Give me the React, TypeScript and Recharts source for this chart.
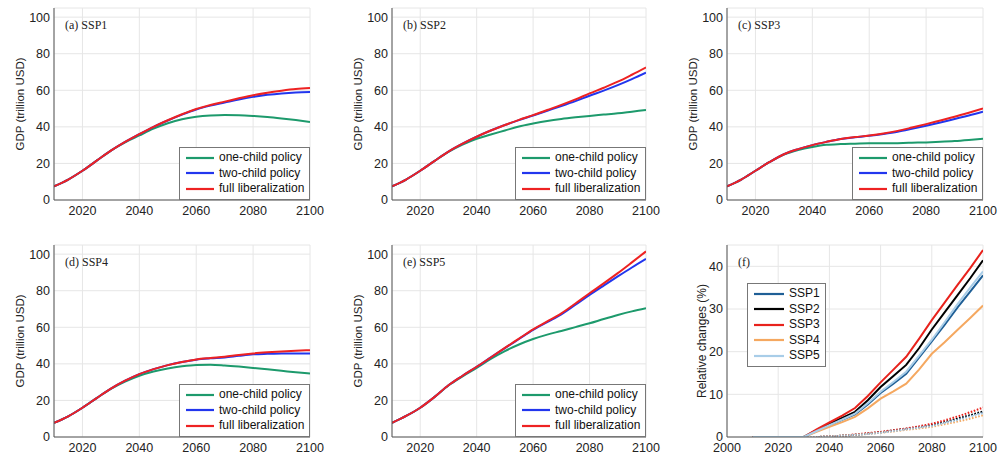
import React from 'react';
import { LineChart, Line, XAxis, YAxis, CartesianGrid, Legend } from 'recharts';

// years shared by every panel (5-year steps)
const YEARS = [2010, 2015, 2020, 2025, 2030, 2035, 2040, 2045, 2050, 2055, 2060, 2065, 2070, 2075, 2080, 2085, 2090, 2095, 2100];

const POLICY_NAMES = ['one-child policy', 'two-child policy', 'full liberalization'];
const POLICY_COLORS = ['#1d9a6c', '#2236ee', '#ee2222'];

// GDP (trillion USD)
const SSP1_ONE = [7.5, 11.2, 16, 21.5, 27, 31.5, 35.3, 39, 42, 44.2, 45.5, 46.2, 46.5, 46.4, 46, 45.4, 44.6, 43.7, 42.7];
const SSP1_TWO = [7.5, 11.2, 16, 21.5, 27, 31.8, 36, 40, 43.5, 46.7, 49.5, 51.6, 53.3, 55, 56.4, 57.5, 58.3, 58.8, 59];
const SSP1_FULL = [7.5, 11.2, 16, 21.5, 27, 31.8, 36, 40, 43.6, 46.9, 49.8, 52, 53.8, 55.6, 57.3, 58.7, 59.8, 60.7, 61.2];

const SSP2_ONE = [7.5, 11.2, 16, 21.3, 26.3, 30.3, 33.5, 35.8, 38, 40.2, 41.8, 43.2, 44.3, 45.2, 46, 46.7, 47.4, 48.3, 49.2];
const SSP2_TWO = [7.5, 11.2, 16, 21.3, 26.5, 30.8, 34.6, 38, 41, 43.7, 46.2, 48.8, 51.4, 54.1, 57, 59.8, 62.8, 66.1, 69.6];
const SSP2_FULL = [7.5, 11.2, 16, 21.3, 26.5, 30.8, 34.6, 38, 41, 43.8, 46.4, 49.2, 52, 55, 58.3, 61.4, 64.7, 68.5, 72.5];

const SSP3_ONE = [7.5, 11.2, 16, 20.8, 24.8, 27.3, 29, 30.2, 30.6, 30.8, 31, 31, 31.1, 31.3, 31.5, 31.8, 32.2, 32.8, 33.5];
const SSP3_TWO = [7.5, 11.2, 16, 20.8, 25, 27.8, 30, 31.8, 33.4, 34.3, 35.1, 36.1, 37.3, 38.9, 40.6, 42.4, 44.3, 46.2, 48.3];
const SSP3_FULL = [7.5, 11.2, 16, 20.8, 25, 27.8, 30, 31.8, 33.4, 34.4, 35.3, 36.4, 37.8, 39.6, 41.5, 43.5, 45.5, 47.7, 50];

const SSP4_ONE = [7.7, 11.3, 16, 21.3, 26.3, 30.3, 33.5, 35.8, 37.5, 38.7, 39.4, 39.5, 39.1, 38.5, 37.8, 37, 36.2, 35.4, 34.7];
const SSP4_TWO = [7.7, 11.3, 16, 21.3, 26.5, 30.8, 34.4, 37.1, 39.3, 41, 42.3, 43, 43.5, 44.4, 45.2, 45.5, 45.7, 45.7, 45.7];
const SSP4_FULL = [7.7, 11.3, 16, 21.3, 26.5, 30.8, 34.4, 37.1, 39.3, 41, 42.4, 43.2, 43.9, 44.9, 45.7, 46.3, 46.8, 47.2, 47.5];

const SSP5_ONE = [7.7, 11.5, 16, 21.8, 28.2, 33.2, 37.8, 42.7, 47, 50.6, 53.6, 56, 58, 60.1, 62.2, 64.5, 66.7, 68.7, 70.4];
const SSP5_TWO = [7.7, 11.5, 16, 21.8, 28.3, 33.5, 38.4, 43.5, 48.6, 53.6, 58.6, 62.8, 67, 72.3, 77.7, 82.8, 87.8, 92.7, 97.4];
const SSP5_FULL = [7.7, 11.5, 16, 21.8, 28.3, 33.5, 38.4, 43.5, 48.7, 53.8, 58.9, 63.2, 67.6, 73, 78.6, 84, 89.6, 95.5, 101.5];

// relative changes (%), solid and dotted
const SSP_NAMES = ['SSP1', 'SSP2', 'SSP3', 'SSP4', 'SSP5'];
const SSP_COLORS = ['#1f5f96', '#000000', '#e8221c', '#f5a860', '#a8cde8'];

const REL_SOLID = [
  [0, 0, 0, 0, 0, 1.4, 2.7, 4.0, 5.3, 7.6, 10.3, 12.5, 14.8, 18.6, 22.4, 26.3, 30.3, 34.1, 37.9],
  [0, 0, 0, 0, 0, 1.6, 3.1, 4.5, 5.9, 8.6, 11.7, 14.3, 16.9, 20.8, 25.2, 29.2, 33.2, 37.2, 41.4],
  [0, 0, 0, 0, 0, 1.8, 3.4, 5.0, 6.8, 9.6, 12.8, 15.8, 18.8, 23.0, 27.4, 31.5, 35.6, 39.6, 43.8],
  [0, 0, 0, 0, 0, 1.2, 2.4, 3.5, 4.7, 6.7, 9.0, 10.7, 12.5, 15.8, 19.5, 22.2, 25.1, 27.9, 30.8],
  [0, 0, 0, 0, 0, 1.4, 2.8, 4.1, 5.5, 7.9, 10.6, 12.9, 15.3, 19.0, 22.8, 26.9, 31.1, 35.0, 38.8],
];
const REL_DOTTED = [
  [0, 0, 0, 0, 0, 0, 0.1, 0.3, 0.5, 0.8, 1.1, 1.5, 1.9, 2.3, 2.7, 3.4, 4.2, 5.0, 5.8],
  [0, 0, 0, 0, 0, 0, 0.1, 0.3, 0.5, 0.8, 1.1, 1.5, 1.9, 2.3, 2.8, 3.5, 4.3, 5.1, 6.0],
  [0, 0, 0, 0, 0, 0, 0.1, 0.3, 0.6, 0.9, 1.2, 1.6, 2.0, 2.5, 3.1, 3.9, 4.8, 5.8, 6.9],
  [0, 0, 0, 0, 0, 0, 0.1, 0.3, 0.5, 0.7, 1.0, 1.3, 1.7, 2.0, 2.4, 3.0, 3.6, 4.3, 5.1],
  [0, 0, 0, 0, 0, 0, 0.1, 0.3, 0.5, 0.7, 1.0, 1.4, 1.8, 2.2, 2.6, 3.3, 4.0, 4.8, 5.6],
];

const GDP_X_TICKS = [2020, 2040, 2060, 2080, 2100];
const GDP_Y_TICKS = [0, 20, 40, 60, 80, 100];
const REL_X_TICKS = [2000, 2020, 2040, 2060, 2080, 2100];
const REL_Y_TICKS = [0, 10, 20, 30, 40];

const SANS = '"Liberation Sans", Arial, sans-serif';
const SERIF = '"Liberation Serif", "Times New Roman", serif';
const FRAME = '#555';
const GRID = '#e6e6e6';

const ML = 14;
const AXIS_W = 40;
const MR = 20;
const MT = 8;
const PLOT_H = 192;
const XAXIS_H = 20;
const MB = 5;

function SideLabel(props: any) {
  const { viewBox, value, gap, size } = props;
  const x = viewBox.x + viewBox.width - gap;
  const y = viewBox.y + viewBox.height / 2;
  return (
    <text
      x={x}
      y={y}
      transform={`rotate(-90 ${x} ${y})`}
      textAnchor="middle"
      dominantBaseline="central"
      fontFamily={SANS}
      fontSize={size}
      fill="#222"
    >
      {value}
    </text>
  );
}

type Item = { name: string; color: string };

function LegendBox({ items, width, lineW }: { items: Item[]; width: number; lineW: number }) {
  return (
    <div
      style={{
        boxSizing: 'border-box',
        width,
        border: '1px solid #777',
        background: '#fff',
        padding: '2px 0 2px 6px',
        fontFamily: SANS,
        fontSize: 12,
        color: '#111',
        lineHeight: '15.5px',
      }}
    >
      {items.map((it) => (
        <div key={it.name} style={{ display: 'flex', alignItems: 'center', height: 15.5 }}>
          <svg width={lineW} height={4} style={{ marginRight: 5, flex: 'none' }}>
            <line x1={0} y1={2} x2={lineW} y2={2} stroke={it.color} strokeWidth={2.2} />
          </svg>
          <span style={{ whiteSpace: 'nowrap' }}>{it.name}</span>
        </div>
      ))}
    </div>
  );
}

type SeriesDef = { key: string; color: string; dashed?: boolean };

type PanelProps = {
  plotLeft: number;
  plotTop: number;
  plotW: number;
  data: any[];
  series: SeriesDef[];
  xDomain: [number, number];
  xTicks: number[];
  yDomain: [number, number];
  yTicks: number[];
  yLabel: string;
  yLabelGap: number;
  yLabelSize: number;
  tag: string;
  tagDx: number;
  legendItems: Item[];
  legendLeft: number;
  legendTop: number;
  legendW: number;
  legendLineW: number;
  smooth: boolean;
};

function Panel(p: PanelProps) {
  const width = ML + AXIS_W + p.plotW + MR;
  const height = MT + PLOT_H + XAXIS_H + MB;
  const tickStyle = { fontFamily: SANS, fontSize: 12.5, fill: '#222' };
  return (
    <div style={{ position: 'absolute', left: p.plotLeft - ML - AXIS_W, top: p.plotTop - MT, width, height }}>
      <LineChart width={width} height={height} data={p.data} margin={{ top: MT, right: MR, bottom: MB, left: ML }}>
        <CartesianGrid stroke={GRID} strokeWidth={1} />
        <XAxis
          dataKey="year"
          type="number"
          domain={p.xDomain}
          ticks={p.xTicks}
          allowDataOverflow
          height={XAXIS_H}
          tickLine={false}
          tickSize={3}
          tickMargin={3}
          tick={tickStyle}
          axisLine={{ stroke: FRAME }}
          interval={0}
        />
        <XAxis
          xAxisId="top"
          dataKey="year"
          type="number"
          orientation="top"
          domain={p.xDomain}
          allowDataOverflow
          height={0}
          tick={false}
          tickLine={false}
          axisLine={{ stroke: FRAME }}
        />
        <YAxis
          type="number"
          domain={p.yDomain}
          ticks={p.yTicks}
          allowDataOverflow
          width={AXIS_W}
          tickLine={false}
          tickSize={2}
          tickMargin={2}
          tick={tickStyle}
          axisLine={{ stroke: FRAME }}
          interval={0}
          label={<SideLabel value={p.yLabel} gap={p.yLabelGap} size={p.yLabelSize} />}
        />
        <YAxis
          yAxisId="right"
          type="number"
          orientation="right"
          domain={p.yDomain}
          allowDataOverflow
          width={0}
          tick={false}
          tickLine={false}
          axisLine={{ stroke: FRAME }}
        />
        <Legend
          layout="vertical"
          align="center"
          verticalAlign="middle"
          wrapperStyle={{ left: p.legendLeft, top: p.legendTop, width: 'auto', height: 'auto' }}
          content={() => <LegendBox items={p.legendItems} width={p.legendW} lineW={p.legendLineW} />}
        />
        {p.series.map((s) => (
          <Line
            key={s.key}
            dataKey={s.key}
            type={p.smooth ? 'monotone' : 'linear'}
            stroke={s.color}
            strokeWidth={2}
            strokeDasharray={s.dashed ? '1.6 1.6' : undefined}
            dot={false}
            activeDot={false}
            legendType="none"
            isAnimationActive={false}
          />
        ))}
      </LineChart>
      <div
        style={{
          position: 'absolute',
          left: ML + AXIS_W + p.tagDx,
          top: MT + 10,
          fontFamily: SERIF,
          fontSize: 12,
          lineHeight: '14px',
          color: '#222',
          whiteSpace: 'nowrap',
        }}
      >
        {p.tag}
      </div>
    </div>
  );
}

function gdpTable(one: number[], two: number[], full: number[]) {
  return YEARS.map((year, i) => ({ year, one: one[i], two: two[i], full: full[i] }));
}

const GDP_SERIES: SeriesDef[] = [
  { key: 'one', color: POLICY_COLORS[0] },
  { key: 'two', color: POLICY_COLORS[1] },
  { key: 'full', color: POLICY_COLORS[2] },
];
const GDP_ITEMS: Item[] = POLICY_NAMES.map((name, i) => ({ name, color: POLICY_COLORS[i] }));

const REL_TABLE = YEARS.map((year, i) => {
  const row: any = { year };
  SSP_NAMES.forEach((n, k) => {
    row[n] = REL_SOLID[k][i];
    row[n + '_dot'] = REL_DOTTED[k][i];
  });
  return row;
});
const REL_SERIES: SeriesDef[] = [
  ...SSP_NAMES.map((n, k) => ({ key: n + '_dot', color: SSP_COLORS[k], dashed: true })),
  ...SSP_NAMES.map((n, k) => ({ key: n, color: SSP_COLORS[k] })),
];
const REL_ITEMS: Item[] = SSP_NAMES.map((name, k) => ({ name, color: SSP_COLORS[k] }));

const GDP_PANELS = [
  { tag: '(a) SSP1', left: 54, top: 8, w: 256, data: gdpTable(SSP1_ONE, SSP1_TWO, SSP1_FULL) },
  { tag: '(b) SSP2', left: 392, top: 8, w: 254, data: gdpTable(SSP2_ONE, SSP2_TWO, SSP2_FULL) },
  { tag: '(c) SSP3', left: 727, top: 8, w: 256, data: gdpTable(SSP3_ONE, SSP3_TWO, SSP3_FULL) },
  { tag: '(d) SSP4', left: 54, top: 245, w: 256, data: gdpTable(SSP4_ONE, SSP4_TWO, SSP4_FULL) },
  { tag: '(e) SSP5', left: 392, top: 245, w: 254, data: gdpTable(SSP5_ONE, SSP5_TWO, SSP5_FULL) },
];

export default function App() {
  return (
    <div style={{ position: 'absolute', left: 0, top: 0, width: 1005, height: 454, background: '#fff', overflow: 'hidden' }}>
      {GDP_PANELS.map((g) => (
        <Panel
          key={g.tag}
          plotLeft={g.left}
          plotTop={g.top}
          plotW={g.w}
          data={g.data}
          series={GDP_SERIES}
          xDomain={[2010, 2100]}
          xTicks={GDP_X_TICKS}
          yDomain={[0, 105]}
          yTicks={GDP_Y_TICKS}
          yLabel="GDP (trillion USD)"
          yLabelGap={34}
          yLabelSize={11.5}
          tag={g.tag}
          tagDx={11}
          legendItems={GDP_ITEMS}
          legendLeft={ML + AXIS_W + g.w - 131}
          legendTop={MT + 139}
          legendW={131}
          legendLineW={28}
          smooth
        />
      ))}
      <Panel
        plotLeft={727}
        plotTop={245}
        plotW={256}
        data={REL_TABLE}
        series={REL_SERIES}
        xDomain={[2000, 2100]}
        xTicks={REL_X_TICKS}
        yDomain={[0, 45]}
        yTicks={REL_Y_TICKS}
        yLabel="Relative changes (%)"
        yLabelGap={25}
        yLabelSize={12}
        tag="(f)"
        tagDx={11}
        legendItems={REL_ITEMS}
        legendLeft={ML + AXIS_W + 20}
        legendTop={MT + 38}
        legendW={79}
        legendLineW={30}
        smooth={false}
      />
    </div>
  );
}
